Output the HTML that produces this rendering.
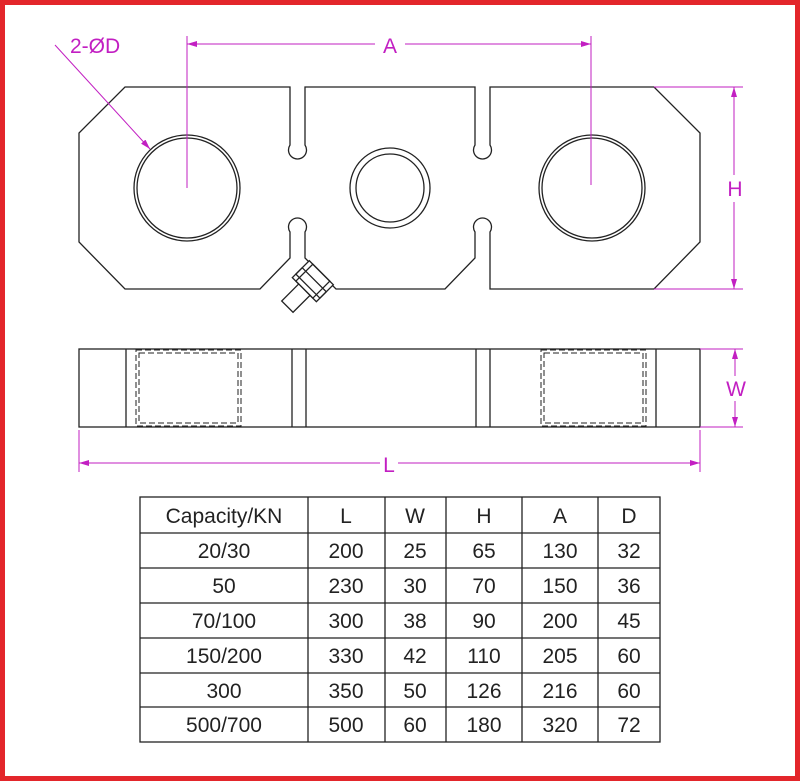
<!DOCTYPE html>
<html><head><meta charset="utf-8"><style>
html,body{margin:0;padding:0;background:#fff}
svg{display:block}
text{font-family:"Liberation Sans",sans-serif}
</style></head><body>
<svg width="800" height="781" viewBox="0 0 800 781" xmlns="http://www.w3.org/2000/svg">
<rect x="2.5" y="2.5" width="795" height="776" fill="#fff" stroke="#e3262b" stroke-width="5"/>
<defs>
<marker id="ar" viewBox="0 0 10 6" refX="10" refY="3" markerWidth="10" markerHeight="6" orient="auto-start-reverse" markerUnits="userSpaceOnUse"><path d="M0,0 L10,3 L0,6 z" fill="#c21fc2"/></marker>
</defs>
<g fill="none" stroke="#222" stroke-width="1.3">
<path d="M290,87 L125,87 L79,133 L79,242 L125,289 L260,289 L290,258 L290,232 A9,9 0 1 1 305,232 L305,258 L336,289 L445,289 L475,258 L475,232 A9,9 0 1 1 490,232 L490,289 L654,289 L700,242 L700,133 L654,87 L490,87 L490,145 A9,9 0 1 1 475,145 L475,87 L305,87 L305,145 A9,9 0 1 1 290,145 Z"/>
<circle cx="187" cy="188" r="53"/><circle cx="187" cy="188" r="50"/>
<circle cx="390" cy="188" r="40"/><circle cx="390" cy="188" r="34"/>
<circle cx="592" cy="188" r="53"/><circle cx="592" cy="188" r="50"/>
<g transform="translate(310,284) rotate(45)">
<rect x="-17" y="-16" width="34" height="24" fill="#fff"/>
<rect x="-12" y="-16" width="24" height="24"/>
<rect x="-17" y="-6" width="34" height="9"/>
<rect x="-8" y="8" width="16" height="24" fill="#fff"/>
</g>
<rect x="79" y="349" width="621" height="78"/>
<line x1="126" y1="349" x2="126" y2="427"/><line x1="656" y1="349" x2="656" y2="427"/>
<line x1="292" y1="349" x2="292" y2="427"/><line x1="306" y1="349" x2="306" y2="427"/>
<line x1="476" y1="349" x2="476" y2="427"/><line x1="490" y1="349" x2="490" y2="427"/>
<g stroke-dasharray="6,3" stroke-width="1">
<rect x="136" y="350" width="105" height="76"/><rect x="139" y="353" width="99" height="70"/>
<rect x="541" y="350" width="105" height="76"/><rect x="544" y="353" width="99" height="70"/>
</g>
</g>
<g stroke="#c21fc2" stroke-width="1" fill="none">
<line x1="187" y1="36" x2="187" y2="188"/>
<line x1="591" y1="36" x2="591" y2="185"/>
<line x1="187" y1="44" x2="375" y2="44" marker-start="url(#ar)"/>
<line x1="405" y1="44" x2="591" y2="44" marker-end="url(#ar)"/>
<line x1="55" y1="45" x2="150" y2="149" marker-end="url(#ar)"/>
<line x1="654" y1="87" x2="743" y2="87"/><line x1="654" y1="289" x2="743" y2="289"/>
<line x1="734" y1="87" x2="734" y2="175" marker-start="url(#ar)"/>
<line x1="734" y1="202" x2="734" y2="289" marker-end="url(#ar)"/>
<line x1="700" y1="349" x2="743" y2="349"/><line x1="700" y1="427" x2="743" y2="427"/>
<line x1="735" y1="349" x2="735" y2="376" marker-start="url(#ar)"/>
<line x1="735" y1="401" x2="735" y2="427" marker-end="url(#ar)"/>
<line x1="79" y1="430" x2="79" y2="472"/><line x1="700" y1="430" x2="700" y2="472"/>
<line x1="79" y1="463" x2="380" y2="463" marker-start="url(#ar)"/>
<line x1="398" y1="463" x2="700" y2="463" marker-end="url(#ar)"/>
</g>
<g fill="#c21fc2" font-size="21">
<text x="70" y="53">2-ØD</text>
<text x="390" y="53" text-anchor="middle">A</text>
<text x="735" y="196" text-anchor="middle">H</text>
<text x="736" y="396" text-anchor="middle">W</text>
<text x="389" y="472" text-anchor="middle">L</text>
</g>
<g stroke="#222" stroke-width="1.3" fill="none">
<rect x="140" y="497" width="520" height="245"/>
<line x1="140" y1="533" x2="660" y2="533"/><line x1="140" y1="568" x2="660" y2="568"/>
<line x1="140" y1="603" x2="660" y2="603"/><line x1="140" y1="638" x2="660" y2="638"/>
<line x1="140" y1="673" x2="660" y2="673"/><line x1="140" y1="707" x2="660" y2="707"/>
<line x1="308" y1="497" x2="308" y2="742"/><line x1="385" y1="497" x2="385" y2="742"/>
<line x1="446" y1="497" x2="446" y2="742"/><line x1="522" y1="497" x2="522" y2="742"/>
<line x1="598" y1="497" x2="598" y2="742"/>
</g>
<g fill="#222" font-size="21" text-anchor="middle">
<text x="224" y="523">Capacity/KN</text><text x="346" y="523">L</text><text x="415" y="523">W</text><text x="484" y="523">H</text><text x="560" y="523">A</text><text x="629" y="523">D</text>
<text x="224" y="558">20/30</text><text x="346" y="558">200</text><text x="415" y="558">25</text><text x="484" y="558">65</text><text x="560" y="558">130</text><text x="629" y="558">32</text>
<text x="224" y="593">50</text><text x="346" y="593">230</text><text x="415" y="593">30</text><text x="484" y="593">70</text><text x="560" y="593">150</text><text x="629" y="593">36</text>
<text x="224" y="628">70/100</text><text x="346" y="628">300</text><text x="415" y="628">38</text><text x="484" y="628">90</text><text x="560" y="628">200</text><text x="629" y="628">45</text>
<text x="224" y="663">150/200</text><text x="346" y="663">330</text><text x="415" y="663">42</text><text x="484" y="663">110</text><text x="560" y="663">205</text><text x="629" y="663">60</text>
<text x="224" y="698">300</text><text x="346" y="698">350</text><text x="415" y="698">50</text><text x="484" y="698">126</text><text x="560" y="698">216</text><text x="629" y="698">60</text>
<text x="224" y="732">500/700</text><text x="346" y="732">500</text><text x="415" y="732">60</text><text x="484" y="732">180</text><text x="560" y="732">320</text><text x="629" y="732">72</text>
</g>
</svg>
</body></html>
